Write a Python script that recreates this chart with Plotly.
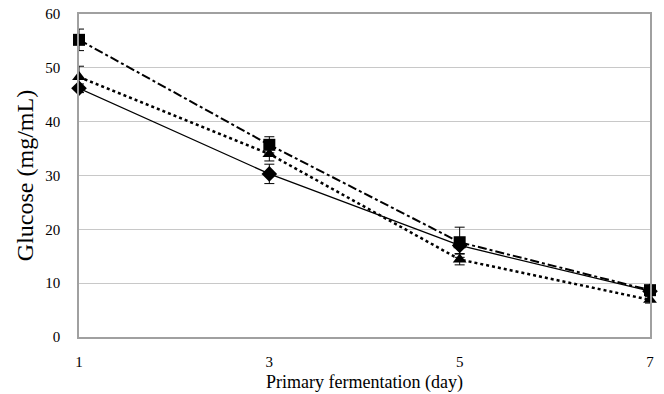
import plotly.graph_objects as go

days = [1, 3, 5, 7]
diamond_vals = [46.2, 30.3, 17.0, 8.5]
diamond_err = [0.8, 1.8, 1.5, 0.5]
square_vals = [55.2, 35.7, 17.6, 8.7]
square_err = [2.0, 1.5, 2.8, 0.6]
triangle_vals = [48.3, 34.0, 14.4, 6.9]
triangle_err = [2.0, 1.3, 1.0, 0.6]
y_ticks = [0, 10, 20, 30, 40, 50, 60]
x_ticks = [1, 3, 5, 7]

font_family = "Liberation Serif"

fig = go.Figure()

fig.add_trace(go.Scatter(
    x=days, y=diamond_vals, mode="lines+markers",
    line=dict(color="black", width=1.3, dash="solid"),
    marker=dict(symbol="diamond", size=12, color="black"),
    error_y=dict(type="data", array=diamond_err, color="black", thickness=1, width=5),
    cliponaxis=False, showlegend=False,
))
fig.add_trace(go.Scatter(
    x=days, y=triangle_vals, mode="lines+markers",
    line=dict(color="black", width=2.5, dash="dot"),
    marker=dict(symbol="triangle-up", size=12, color="black"),
    error_y=dict(type="data", array=triangle_err, color="black", thickness=1, width=5),
    cliponaxis=False, showlegend=False,
))
fig.add_trace(go.Scatter(
    x=days, y=square_vals, mode="lines+markers",
    line=dict(color="black", width=2, dash="dashdot"),
    marker=dict(symbol="square", size=12, color="black"),
    error_y=dict(type="data", array=square_err, color="black", thickness=1, width=5),
    cliponaxis=False, showlegend=False,
))

fig.update_layout(
    width=664, height=394,
    margin=dict(l=79, r=14, t=14, b=57),
    paper_bgcolor="white", plot_bgcolor="white",
    font=dict(family=font_family, color="black", size=15),
)
fig.update_xaxes(
    range=[1, 7], tickvals=x_ticks, ticktext=[str(v) for v in x_ticks],
    showgrid=False, zeroline=False, automargin=False,
    showline=True, linecolor="#a0a0a0", linewidth=1.5, mirror=True,
    ticks="", ticklabelstandoff=10,
    tickfont=dict(family=font_family, size=15),
    title=dict(text="Primary fermentation (day)", font=dict(family=font_family, size=18), standoff=7),
)
fig.update_yaxes(
    range=[0, 60], tickvals=y_ticks,
    showgrid=True, gridcolor="#c8c8c8", gridwidth=1,
    zeroline=False, automargin=False,
    showline=True, linecolor="#a0a0a0", linewidth=1.5, mirror=True,
    ticks="", ticklabelstandoff=14,
    tickfont=dict(family=font_family, size=15),
    title=dict(text="Glucose (mg/mL)", font=dict(family=font_family, size=24), standoff=5),
)

fig.write_html("out.html")
